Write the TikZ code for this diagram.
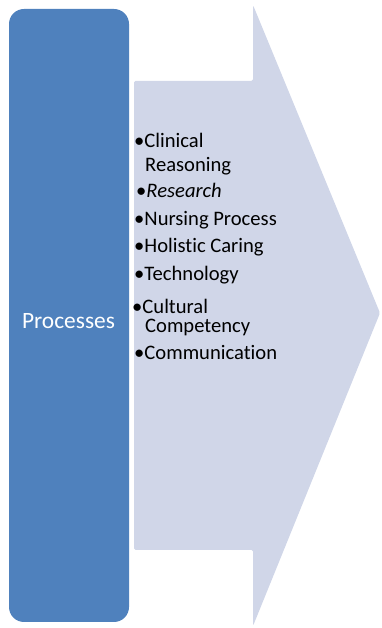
\documentclass[tikz,border=0pt]{standalone}
\usepackage{fontspec}
\setmainfont{Carlito}[Ligatures=CommonOff]
\definecolor{boxblue}{HTML}{4F81BD}
\definecolor{arrowfill}{HTML}{D0D6E8}
\tikzset{
  listitem/.style={anchor=base west, inner sep=0pt, font=\fontsize{20.6}{22}\selectfont, text=black},
  mainbox/.style={fill=boxblue, rounded corners=15pt, inner sep=0pt}
}
\begin{document}
\begin{tikzpicture}[x=1pt,y=1pt]
\useasboundingbox (0,0) rectangle (381,628);
% arrow
\fill[arrowfill, rounded corners=1.5pt] (134,547) -- (253,547) -- (253,623) -- (380,315) -- (253,2) -- (253,78) -- (134,78) -- cycle;
% blue box
\node[mainbox, minimum width=120pt, minimum height=613pt] (proc) at (69,312.5) {};
\node[text=white, font=\fontsize{23.4}{26}\selectfont, inner sep=0pt] (proclabel) at (68.5,307) {Processes};
% list
\node[listitem] (l1) at (134,628-148) {•Clinical};
\node[listitem] (l1b) at (145,628-171.5) {Reasoning};
\node[listitem] (l2) at (136,628-198) {•\textit{Research}};
\node[listitem] (l3) at (134,628-226) {•Nursing Process};
\node[listitem] (l4) at (134,628-253) {•Holistic Caring};
\node[listitem] (l5) at (134,628-281) {•Technology};
\node[listitem] (l6) at (132,628-314) {•Cultural};
\node[listitem] (l6b) at (145,628-333) {Competency};
\node[listitem] (l7) at (134,628-360) {•Communication};
\end{tikzpicture}
\end{document}
